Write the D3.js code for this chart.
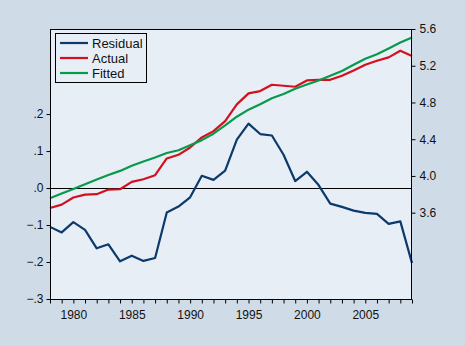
<!DOCTYPE html>
<html>
<head>
<meta charset="utf-8">
<script src="https://cdn.jsdelivr.net/npm/d3@7"></script>
<style>
  body { margin: 0; background: #cfdbe7; }
  text { font-family: "Liberation Sans", Arial, sans-serif; fill: #111; }
</style>
</head>
<body>
<svg id="chart" width="465" height="346"></svg>
<script>
// residual / actual / fitted, annual 1978-2009

const years = d3.range(1978, 2010);

const residual = [-0.105, -0.12, -0.092, -0.113, -0.163, -0.152, -0.198, -0.183,
  -0.197, -0.189, -0.066, -0.05, -0.025, 0.033, 0.022, 0.047,
  0.131, 0.174, 0.146, 0.142, 0.09, 0.019, 0.044, 0.008,
  -0.042, -0.051, -0.061, -0.067, -0.07, -0.097, -0.09, -0.203];

const actual = [3.651, 3.688, 3.765, 3.797, 3.801, 3.852, 3.855, 3.935,
  3.964, 4.008, 4.19, 4.23, 4.31, 4.419, 4.488, 4.597,
  4.779, 4.899, 4.924, 4.993, 4.982, 4.971, 5.04, 5.047,
  5.047, 5.091, 5.149, 5.211, 5.254, 5.291, 5.364, 5.306];

const fitted = [3.756, 3.808, 3.857, 3.91, 3.962, 4.01, 4.055, 4.11,
  4.158, 4.2, 4.25, 4.28, 4.335, 4.39, 4.46, 4.55,
  4.645, 4.722, 4.78, 4.845, 4.892, 4.95, 4.995, 5.04,
  5.09, 5.142, 5.21, 5.275, 5.325, 5.388, 5.452, 5.508];

const leftTicks = [-0.3, -0.2, -0.1, 0, 0.1, 0.2];
const rightTicks = [3.6, 4.0, 4.4, 4.8, 5.2, 5.6];
const yearTicks = [1980, 1985, 1990, 1995, 2000, 2005];

const colors = { Residual: '#0b3a6b', Actual: '#d4101e', Fitted: '#08994a' };

const svg = d3.select('#chart');
const m = { left: 50, right: 412, top: 29, bottom: 299 };

const x = d3.scaleLinear().domain([1978, 2009]).range([m.left, m.right]);
const yL = d3.scaleLinear().domain([-0.3, 0.43]).range([m.bottom, m.top]);
const yR = d3.scaleLinear().domain([2.66, 5.6]).range([m.bottom, m.top]);

// plot background
svg.append('rect')
  .attr('x', m.left).attr('y', m.top)
  .attr('width', m.right - m.left).attr('height', m.bottom - m.top)
  .attr('fill', '#e7eef6');

// zero line
svg.append('line')
  .attr('x1', m.left).attr('x2', m.right)
  .attr('y1', Math.round(yL(0)) + 0.5).attr('y2', Math.round(yL(0)) + 0.5)
  .attr('stroke', '#000').attr('stroke-width', 1);

// series
const series = [
  { name: 'Residual', vals: residual, y: yL },
  { name: 'Actual', vals: actual, y: yR },
  { name: 'Fitted', vals: fitted, y: yR }
];

series.forEach(s => {
  const line = d3.line()
    .x((d, i) => x(years[i]))
    .y(d => s.y(d));
  svg.append('path')
    .datum(s.vals)
    .attr('d', line)
    .attr('fill', 'none')
    .attr('stroke', colors[s.name])
    .attr('stroke-width', 2.2)
    .attr('stroke-linejoin', 'round');
});

// frame
svg.append('rect')
  .attr('x', m.left + 0.5).attr('y', m.top + 0.5)
  .attr('width', m.right - m.left - 1).attr('height', m.bottom - m.top)
  .attr('fill', 'none').attr('stroke', '#000');

// axes
const fmtL = d => d === 0 ? '.0' : d3.format('.1f')(d).replace('0.', '.');

const xAxis = d3.axisBottom(x)
  .tickValues(years)
  .tickSize(4)
  .tickFormat(d => yearTicks.includes(d) ? d : '');
svg.append('g')
  .attr('transform', `translate(0,${m.bottom + 0.5})`)
  .call(xAxis)
  .call(g => g.select('.domain').remove())
  .call(g => g.selectAll('text').attr('font-size', 12).attr('dy', '1.05em'));

const leftAxis = d3.axisLeft(yL)
  .tickValues(leftTicks)
  .tickSize(4)
  .tickFormat(fmtL);
svg.append('g')
  .attr('transform', `translate(${m.left + 0.5},0)`)
  .call(leftAxis)
  .call(g => g.select('.domain').remove())
  .call(g => g.selectAll('text').attr('font-size', 12).attr('x', -7));

const rightAxis = d3.axisRight(yR)
  .tickValues(rightTicks)
  .tickSize(4)
  .tickFormat(d3.format('.1f'));
svg.append('g')
  .attr('transform', `translate(${m.right - 0.5},0)`)
  .call(rightAxis)
  .call(g => g.select('.domain').remove())
  .call(g => g.selectAll('text').attr('font-size', 12).attr('x', 8));

svg.selectAll('.tick line').attr('stroke', '#000');

// legend
const lg = svg.append('g').attr('transform', 'translate(55,33)');
lg.append('rect')
  .attr('x', 0.5).attr('y', 0.5)
  .attr('width', 91).attr('height', 49)
  .attr('fill', '#e7eef6').attr('stroke', '#000');

series.forEach((s, i) => {
  const yy = 10 + i * 15;
  lg.append('line')
    .attr('x1', 5).attr('x2', 33)
    .attr('y1', yy).attr('y2', yy)
    .attr('stroke', colors[s.name]).attr('stroke-width', 2.2);
  lg.append('text')
    .attr('x', 37).attr('y', yy)
    .attr('dy', '0.36em')
    .attr('font-size', 13)
    .text(s.name);
});
</script>
</body>
</html>
